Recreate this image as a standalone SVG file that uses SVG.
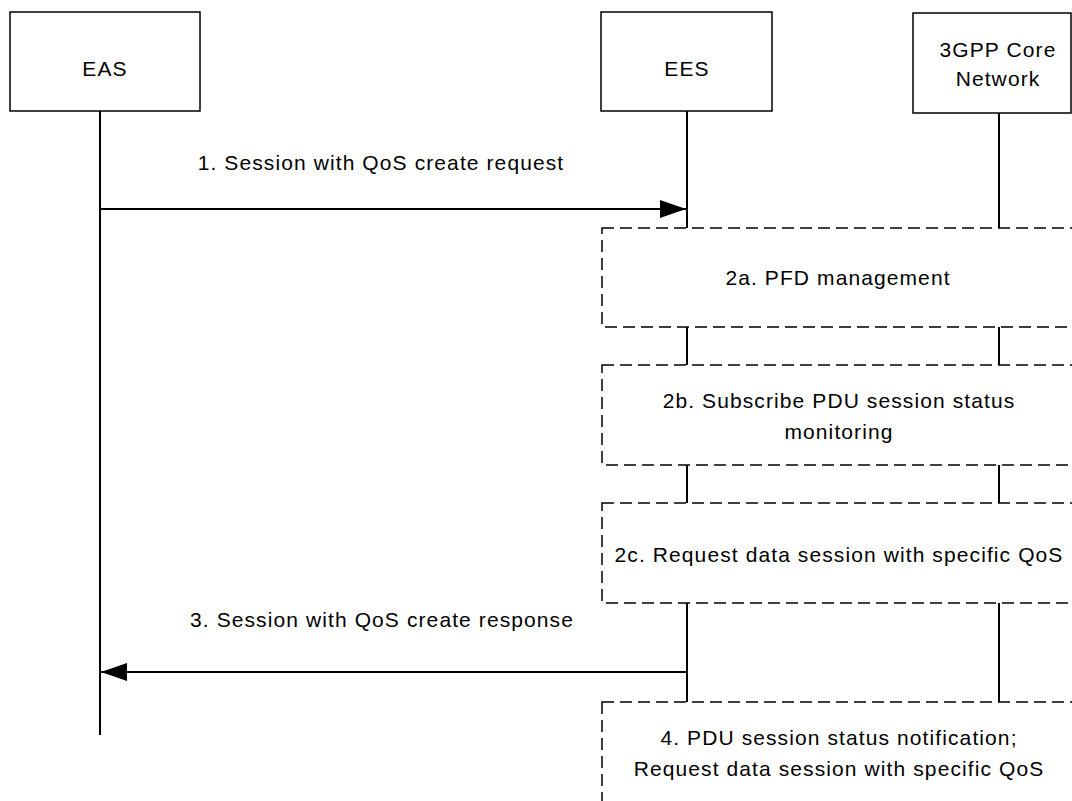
<svg xmlns="http://www.w3.org/2000/svg" width="1072" height="801" viewBox="0 0 1072 801">
<style>
.box{fill:#fff;stroke:#000;stroke-width:1.5}
.dbox{fill:none;stroke:#000;stroke-width:1.5;stroke-dasharray:12 6}
.life{stroke:#000;stroke-width:2;fill:none}
.msg{stroke:#000;stroke-width:2;fill:none}
text{font-family:"Liberation Sans",Arial,sans-serif;font-size:21px;fill:#000;text-anchor:middle;letter-spacing:1.1px}
</style>
<defs>
<marker id="ah" markerWidth="26" markerHeight="18" refX="26" refY="9" orient="auto" markerUnits="userSpaceOnUse">
<path d="M0,0 L26,9 L0,18 Z" fill="#000"/>
</marker>
</defs>
<rect width="1072" height="801" fill="#fff"/>
<g id="EAS">
<rect class="box" x="10" y="12" width="190" height="99"/>
<text x="105" y="76">EAS</text>
</g>
<g id="EES">
<rect class="box" x="601" y="12" width="171" height="99"/>
<text x="687" y="76">EES</text>
</g>
<g id="CoreNetwork">
<rect class="box" x="913" y="13" width="158" height="100"/>
<text x="998" y="57">3GPP Core</text>
<text x="998" y="86">Network</text>
</g>
<g id="lifelines">
<line class="life" x1="100" y1="111" x2="100" y2="735"/>
<path class="life" d="M687,111 V228 M687,327 V365 M687,465 V503 M687,603 V702"/>
<path class="life" d="M999,113 V228 M999,327 V365 M999,465 V503 M999,603 V702"/>
</g>
<g id="step2a">
<rect class="dbox" x="602" y="228" width="480" height="99"/>
<text x="838" y="285">2a. PFD management</text>
</g>
<g id="step2b">
<rect class="dbox" x="602" y="365" width="480" height="100"/>
<text x="839" y="408">2b. Subscribe PDU session status</text>
<text x="839" y="439">monitoring</text>
</g>
<g id="step2c">
<rect class="dbox" x="602" y="503" width="480" height="100"/>
<text x="839" y="562">2c. Request data session with specific QoS</text>
</g>
<g id="step4">
<rect class="dbox" x="602" y="702" width="480" height="120"/>
<text x="839" y="745">4. PDU session status notification;</text>
<text x="839" y="776">Request data session with specific QoS</text>
</g>
<g id="connectors">
<line class="msg" x1="100" y1="209" x2="686" y2="209" marker-end="url(#ah)"/>
<text x="381" y="170">1. Session with QoS create request</text>
<line class="msg" x1="687" y1="672" x2="101" y2="672" marker-end="url(#ah)"/>
<text x="382" y="627">3. Session with QoS create response</text>
</g>
</svg>
